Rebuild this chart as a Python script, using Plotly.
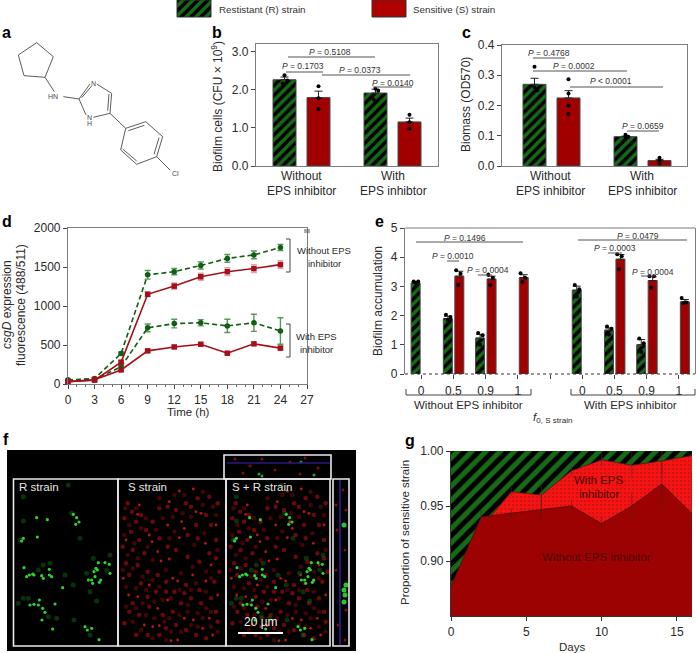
import plotly.graph_objects as go

W, H = 697, 653
FONT = "Liberation Sans"
INK = "#2a2a2a"
AXIS = "#7d7d7d"
GREEN_BG, GREEN_FG = "#176a17", "#000000"
RED_BAR = "#a00000"

# ---------- data ----------
b_groups = ["Without\nEPS inhibitor", "With\nEPS inhibtor"]
b_r = [2.27, 1.92]
b_s = [1.80, 1.16]
b_r_err = [0.07, 0.10]
b_s_err = [0.17, 0.10]
b_r_pts = [[2.39, 2.25, 2.17], [2.03, 1.98, 1.75]]
b_s_pts = [[2.10, 1.78, 1.50], [1.35, 1.15, 0.98]]

c_groups = ["Without\nEPS inhibitor", "With\nEPS inhibitor"]
c_r = [0.27, 0.097]
c_s = [0.225, 0.018]
c_r_err = [0.02, 0.002]
c_s_err = [0.024, 0.004]
c_r_pts = [[0.328, 0.26, 0.25], [0.103, 0.097, 0.097]]
c_s_pts = [[0.287, 0.24, 0.20, 0.172], [0.027, 0.02, 0.008]]

d_time = [0, 3, 6, 9, 12, 15, 18, 21, 24]
d_r_without = [50, 70, 390, 1400, 1440, 1520, 1610, 1655, 1750]
d_s_without = [30, 50, 280, 1150, 1255, 1375, 1440, 1480, 1530]
d_r_with = [50, 60, 220, 720, 775, 785, 745, 785, 680]
d_s_with = [30, 55, 180, 425, 475, 510, 395, 515, 460]
d_r_without_err = [10, 15, 20, 55, 40, 45, 50, 50, 40]
d_s_without_err = [10, 10, 20, 30, 40, 45, 50, 50, 50]
d_r_with_err = [10, 10, 20, 50, 55, 40, 85, 110, 170]
d_s_with_err = [10, 10, 15, 15, 15, 15, 15, 15, 25]

e_ticks = ["0", "0.5", "0.9", "1", "", "0", "0.5", "0.9", "1"]
e_r = [3.12, 1.90, 1.23, None, None, 2.87, 1.50, 1.00, None]
e_s = [None, 3.35, 3.25, 3.30, None, None, 3.93, 3.20, 2.47]
e_r_err = [0.05, 0.08, 0.13, 0, 0, 0.14, 0.08, 0.18, 0]
e_s_err = [0, 0.17, 0.1, 0.1, 0, 0, 0.16, 0.13, 0.08]
e_r_pts = [[3.17, 3.17, 3.12], [2.03, 1.95, 1.85], [1.4, 1.33, 1.0], [], [], [3.05, 2.9, 2.65], [1.63, 1.55, 1.35], [1.22, 1.05, 0.75], []]
e_s_pts = [[], [3.55, 3.43, 3.05], [3.4, 3.3, 3.05], [3.45, 3.3, 3.15], [], [], [4.1, 4.03, 3.6], [3.35, 3.35, 2.95], [2.6, 2.45, 2.42]]

g_days = [0, 2, 4, 6, 8, 10, 12, 14, 16]
g_resistant_top = [1, 1, 1, 1, 1, 1, 1, 1, 1]
g_with = [0.877, 0.930, 0.963, 0.960, 0.982, 0.992, 0.987, 0.991, 0.996]
g_without = [0.877, 0.940, 0.9435, 0.947, 0.950, 0.934, 0.950, 0.970, 0.943]
g_with_err = [0, 0.002, 0.004, 0.012, 0.004, 0.006, 0.012, 0.012, 0.004]
g_without_err = [0.012, 0.006, 0.004, 0.012, 0.005, 0.006, 0.012, 0.02, 0.038]

f_green_bright = [(80, 128), (112, 134), (82, 186), (197, 148), (207, 141), (68, 297), (58, 300), (50, 305), (72, 300), (95, 302), (100, 310), (118, 300), (125, 305), (118, 283), (42, 278), (258, 280), (265, 263), (285, 263), (298, 268), (300, 295), (255, 305), (235, 315), (248, 325), (272, 315), (158, 338), (135, 387), (128, 462), (225, 455), (232, 465), (245, 460), (267, 494), (60, 390), (72, 388), (88, 375), (85, 390), (98, 400), (105, 412), (96, 435), (40, 190), (35, 198), (190, 118), (200, 128), (252, 290), (262, 285), (245, 315), (268, 322)]
f_green_dim = [(40, 138), (30, 195), (185, 115), (210, 190), (100, 270), (85, 285), (120, 265), (165, 300), (190, 330), (250, 250), (300, 240), (230, 295), (290, 285), (240, 350), (260, 378), (40, 370), (25, 385), (55, 370), (115, 425), (140, 430), (192, 435), (240, 480), (175, 30), (40, 65)]
f_red_bright = [(70, 90), (190, 48), (232, 42), (160, 80), (197, 140), (205, 160), (155, 150), (65, 118), (30, 195), (108, 200), (100, 180), (240, 110), (255, 115), (300, 150), (268, 205), (190, 188), (135, 258), (160, 252), (125, 230), (285, 270), (185, 318), (170, 310), (230, 300), (270, 318), (100, 330), (65, 365), (125, 400), (155, 375), (130, 452), (85, 450), (205, 430), (232, 435), (290, 480), (185, 495), (165, 497), (305, 360), (38, 360), (22, 310), (280, 430), (260, 460), (110, 455)]
f_red_dim = [(35, 85), (48, 110), (75, 120), (25, 130), (60, 140), (90, 165), (45, 170), (70, 195), (20, 215), (50, 225), (85, 235), (110, 140), (130, 100), (155, 95), (180, 105), (210, 85), (225, 95), (245, 70), (280, 65), (305, 85), (270, 120), (285, 150), (240, 150), (215, 180), (245, 190), (300, 195), (280, 235), (300, 250), (250, 260), (215, 245), (180, 225), (155, 215), (130, 190), (30, 265), (65, 270), (95, 290), (40, 300), (75, 325), (125, 300), (150, 320), (210, 330), (250, 345), (295, 320), (310, 290), (285, 370), (255, 385), (225, 370), (195, 385), (170, 410), (140, 420), (100, 395), (70, 420), (40, 410), (25, 445), (60, 480), (95, 480), (130, 480), (150, 460), (180, 450), (210, 465), (240, 480), (270, 490), (305, 440), (300, 410), (120, 350), (95, 365), (50, 385), (175, 350), (205, 355), (150, 350)]
f_red_faint = [(28, 100), (60, 100), (90, 130), (40, 150), (75, 160), (25, 180), (55, 205), (95, 215), (35, 240), (65, 250), (110, 255), (20, 285), (50, 280), (80, 305), (110, 315), (60, 340), (30, 335), (90, 345), (130, 335), (115, 380), (80, 385), (30, 395), (60, 400), (90, 420), (115, 430), (50, 440), (75, 465), (110, 490), (145, 440), (160, 430), (190, 420), (215, 410), (245, 415), (270, 400), (285, 410), (260, 430), (225, 450), (195, 470), (150, 495), (165, 470), (245, 455), (285, 455), (305, 470), (270, 350), (225, 345), (190, 345), (165, 370), (140, 375), (215, 390), (240, 325), (270, 290), (230, 275), (195, 295), (150, 285), (285, 310), (305, 225), (265, 175), (225, 125), (200, 115), (170, 125), (140, 130), (120, 165), (175, 170), (160, 190), (235, 210), (290, 95), (260, 90), (300, 120), (175, 60), (205, 60), (260, 50), (130, 70)]
f_top_red = [(235, 459), (250, 466), (262, 459), (275, 470), (290, 462), (305, 458), (318, 468), (243, 473), (300, 474)]
f_top_green = [(259, 474), (262, 476), (314, 475), (301, 462)]
f_side_red = [(343, 490), (346, 510), (337, 530), (345, 550), (336, 570), (346, 610), (338, 625), (345, 640), (336, 505)]
f_side_green = [(344, 525), (344, 590), (345, 595), (344, 602), (346, 585)]

# ---------- helpers ----------
fig = go.Figure()
annotations, shapes = [], []


def T(x, y, text, size=12, color=INK, anchor="center", angle=0, bold=False):
    if bold:
        text = f"<b>{text}</b>"
    annotations.append(dict(x=x / W, y=1 - y / H, xref="paper", yref="paper", text=text, showarrow=False,
                            xanchor=anchor, yanchor="middle", textangle=angle,
                            font=dict(family=FONT, size=size, color=color)))


def seg(x0, y0, x1, y1, color=INK, width=1.0, dash="solid", layer="above"):
    shapes.append(dict(type="line", xref="paper", yref="paper", x0=x0 / W, x1=x1 / W, y0=1 - y0 / H, y1=1 - y1 / H,
                       line=dict(color=color, width=width, dash=dash), layer=layer))


def box(x0, y0, x1, y1, line="white", width=1.5, fill=None, layer="above"):
    shapes.append(dict(type="rect", xref="paper", yref="paper", x0=x0 / W, x1=x1 / W, y0=1 - y0 / H, y1=1 - y1 / H,
                       line=dict(color=line, width=width), fillcolor=fill, layer=layer))


def axis_common(**kw):
    base = dict(showgrid=False, zeroline=False, showline=True, linecolor=AXIS, linewidth=1.2, ticks="outside", automargin=False,
                ticklen=4, tickcolor="#444", tickwidth=1, tickfont=dict(family=FONT, size=12, color=INK))
    base.update(kw)
    return base


def domain(x0, y0, x1, y1):
    return [x0 / W, x1 / W], [1 - y1 / H, 1 - y0 / H]


def hatch():
    return dict(shape="/", bgcolor=GREEN_BG, fgcolor=GREEN_FG, fgopacity=1, fillmode="replace", size=7, solidity=0.5)


def bars(xs, vals, errs, resistant, width, xa, ya):
    fig.add_trace(go.Bar(x=xs, y=vals, width=width, xaxis=xa, yaxis=ya, showlegend=False,
                         marker=dict(color=GREEN_BG if resistant else RED_BAR, opacity=1,
                                     pattern=hatch() if resistant else dict(shape=""),
                                     line=dict(color="#4a4a4a", width=1)),
                         error_y=dict(type="data", symmetric=False, array=errs, arrayminus=[0] * len(errs),
                                      color="#222", thickness=1, width=4)))


def dots(xs, pts, jit, xa, ya):
    px, py = [], []
    for x, group in zip(xs, pts):
        for i, v in enumerate(group):
            px.append(x + jit[i % len(jit)])
            py.append(v)
    fig.add_trace(go.Scatter(x=px, y=py, mode="markers", xaxis=xa, yaxis=ya, showlegend=False, cliponaxis=False,
                             marker=dict(color="black", size=4)))


# ---------- panel b ----------
xb, yb = domain(256, 44, 438, 166)
side, bw = 17 / 91, 23 / 91
g_pos = list(range(len(b_groups)))
bars([g - side for g in g_pos], b_r, b_r_err, True, bw, "x", "y")
bars([g + side for g in g_pos], b_s, b_s_err, False, bw, "x", "y")
dots([g - side for g in g_pos], b_r_pts, [0.0, 0.03, -0.02], "x", "y")
dots([g + side for g in g_pos], b_s_pts, [0.0, 0.0, 0.0], "x", "y")

# ---------- panel c ----------
xc, yc = domain(502, 45, 687, 166)
bars([g - side for g in g_pos], c_r, c_r_err, True, bw, "x2", "y2")
bars([g + side for g in g_pos], c_s, c_s_err, False, bw, "x2", "y2")
dots([g - side for g in g_pos], c_r_pts, [0.0, 0.0, 0.03], "x2", "y2")
dots([g + side for g in g_pos], c_s_pts, [0.0, 0.0, 0.0, 0.0], "x2", "y2")

# ---------- panel d ----------
xd, yd = domain(68, 228, 307, 384)
D_GREEN, D_RED = "#0d5f12", "#a3101c"
for vals, errs, col, sym, dash, ecol in [
    (d_r_without, d_r_without_err, D_GREEN, "circle", "dash", "#5f935f"),
    (d_r_with, d_r_with_err, D_GREEN, "circle", "dash", "#5f935f"),
    (d_s_without, d_s_without_err, D_RED, "square", "solid", "#e5a3a3"),
    (d_s_with, d_s_with_err, D_RED, "square", "solid", "#e5a3a3"),
]:
    fig.add_trace(go.Scatter(x=d_time, y=vals, mode="lines+markers", xaxis="x3", yaxis="y3", showlegend=False,
                             cliponaxis=False, line=dict(color=col, width=1.6, dash="5px,3px" if dash == "dash" else "solid"),
                             marker=dict(color=col, size=5.5, symbol=sym),
                             error_y=dict(type="data", array=errs, color=ecol, thickness=1.4, width=3)))

# ---------- panel e ----------
xe, ye = domain(405, 228, 695, 374)
e_pos = list(range(len(e_ticks)))
e_off_r, e_off_s, e_w = -0.17, 0.186, 0.28
bars([p + e_off_r for p in e_pos], e_r, e_r_err, True, e_w, "x4", "y4")
bars([p + e_off_s for p in e_pos], e_s, e_s_err, False, e_w, "x4", "y4")
dots([p + e_off_r for p in e_pos], e_r_pts, [-0.06, 0.08, 0.0], "x4", "y4")
dots([p + e_off_s for p in e_pos], e_s_pts, [-0.1, 0.04, -0.04], "x4", "y4")

# ---------- panel g ----------
xg, yg = domain(451, 451, 692, 616)
fig.add_trace(go.Scatter(x=g_days, y=g_resistant_top, mode="lines", fill="tozeroy", xaxis="x5", yaxis="y5", showlegend=False,
                         line=dict(color="#0c3d0c", width=0.5), fillcolor=GREEN_BG,
                         fillpattern=dict(shape="/", bgcolor=GREEN_BG, fgcolor="#000000", fgopacity=1, fillmode="replace", size=10, solidity=0.5)))
fig.add_trace(go.Scatter(x=g_days, y=g_with, mode="lines", fill="tozeroy", xaxis="x5", yaxis="y5", showlegend=False,
                         line=dict(color="#5a1010", width=0.8), fillcolor="#f01212",
                         fillpattern=dict(shape=".", bgcolor="#f41414", fgcolor="#9a0c0c", size=4, solidity=0.2),
                         error_y=dict(type="data", array=g_with_err, color="rgba(90,40,40,0.6)", thickness=1, width=0)))
fig.add_trace(go.Scatter(x=g_days, y=g_without, mode="lines", fill="tozeroy", xaxis="x5", yaxis="y5", showlegend=False,
                         line=dict(color="#4a1010", width=0.8), fillcolor="#9c0202",
                         error_y=dict(type="data", array=g_without_err, color="rgba(80,30,30,0.55)", thickness=1, width=0)))

# ---------- overlay in pixel space: legend swatches, microscopy spots ----------
for (x0, x1, res) in [(177, 211, True), (372, 406, False)]:
    fig.add_trace(go.Scatter(x=[x0, x1, x1, x0, x0], y=[0, 0, 17, 17, 0], mode="lines", fill="toself", xaxis="x6", yaxis="y6",
                             showlegend=False, line=dict(color="#333", width=1), fillcolor=GREEN_BG if res else "#b00000",
                             fillpattern=hatch() if res else None))


def pane(points, ox, oy=475):
    return [ox + p[0] / 3 for p in points], [oy + p[1] / 3 for p in points]


def spots(xs, ys, color, size, opacity):
    fig.add_trace(go.Scatter(x=xs, y=ys, mode="markers", xaxis="x6", yaxis="y6", showlegend=False, hoverinfo="skip",
                             marker=dict(color=color, size=size, opacity=opacity, line=dict(width=0))))


box(7, 450, 356, 651, line="black", width=0, fill="black", layer="below")
for ox in (116, 224):
    xs, ys = pane(f_red_faint, ox)
    spots(xs, ys, "#7a0808", 4.5, 0.55)
    xs, ys = pane(f_red_dim, ox)
    spots(xs, ys, "#950d0d", 4.5, 0.7)
    xs, ys = pane(f_red_bright, ox)
    spots(xs, ys, "#cf1616", 2.8, 0.9)
for ox in (10, 223):
    xs, ys = pane(f_green_dim, ox)
    spots(xs, ys, "#1a7a1a", 5, 0.4)
    xs, ys = pane(f_green_bright, ox)
    spots(xs, ys, "#30dc30", 3.2, 0.95)
spots([p[0] for p in f_top_red], [p[1] for p in f_top_red], "#a01212", 3, 0.8)
spots([p[0] for p in f_top_green], [p[1] for p in f_top_green], "#2fb52f", 3, 0.9)
spots([p[0] for p in f_side_red], [p[1] for p in f_side_red], "#a01212", 3, 0.8)
spots([p[0] for p in f_side_green], [p[1] for p in f_side_green], "#2fdc2f", 5, 0.9)

seg(227, 463, 330, 463, color="#2a1a80", width=1.5)
seg(340, 480, 340, 645, color="#2a1a80", width=1.8)
box(13.5, 479, 118, 646, line="#e8e8ee", width=1.6)
box(118, 479, 226, 646, line="#e8e8ee", width=1.6)
box(226, 479, 330, 646, line="#e8e8ee", width=1.6)
box(333, 479, 349, 646, line="#e8e8ee", width=1.6)
box(224, 455, 331, 479, line="#e8e8ee", width=1.6)
seg(238, 633, 283, 633, color="white", width=2)
T(17, 487, "R strain", 11.5, "#e6e6e6", "left")
T(126, 487, "S strain", 11.5, "#e6e6e6", "left")
T(230, 487, "S + R strain", 11.5, "#e6e6e6", "left")
T(261, 622, "20 µm", 12, "#f0f0f0")

# ---------- legend text / panel letters ----------
T(217, 10, "Restistant (R) strain", 9.8, "#333", "left")
T(411, 10, "Sensitive (S) strain", 9.8, "#333", "left")
for letter, x, y in [("a", 0, 32), ("b", 210, 32), ("c", 460, 32), ("d", 0, 221), ("e", 373, 221), ("f", 1, 439), ("g", 403, 440)]:
    T(x, y, letter, 16, "black", "left", bold=True)

# ---------- molecule (panel a) ----------
MOL = "#4a4a4a"


def mol(points, width=0.9):
    for (x0, y0), (x1, y1) in zip(points[:-1], points[1:]):
        seg(x0 / 3, y0 / 3, x1 / 3, y1 / 3, color=MOL, width=width)


mol([(110, 128), (160, 170), (135, 232), (72, 227), (55, 165), (110, 128)])
mol([(135, 232), (163, 275)])
mol([(190, 290), (237, 297), (270, 252)])
mol([(245, 293), (275, 258)])
mol([(290, 252), (335, 280), (330, 340), (280, 352)])
mol([(327, 282), (323, 332)])
mol([(258, 345), (237, 297)])
mol([(330, 340), (377, 385), (437, 365), (488, 410), (470, 470), (410, 493), (362, 450), (377, 385)])
mol([(385, 392), (433, 376)])
mol([(477, 413), (462, 463)])
mol([(410, 483), (368, 447)])
mol([(470, 470), (510, 510)])
T(53.5, 97, "HN", 7, MOL)
T(93, 83.5, "N", 7, MOL)
T(89, 117, "N", 7, MOL)
T(89, 123.5, "H", 7, MOL)
T(175, 173.5, "Cl", 7, MOL)

# ---------- P-value labels ----------
P_ITEMS = [
    (330, 52, "= 0.5108", 288, 375, 57), (303, 66, "= 0.1703", 286, 323, 72), (360, 70, "= 0.0373", 322, 410, 75), (393, 83, "= 0.0140", 373, 412, 87),
    (549, 53, "= 0.4768", 533, 565, 58), (574, 66, "= 0.0002", 533, 627, 71), (611, 81, "&lt; 0.0001", 570, 663, 87), (643, 126, "= 0.0659", 627, 659, 131),
    (465, 238, "= 0.1496", 416, 523, 242), (453, 256, "= 0.0010", 447, 459, 261), (488, 270, "= 0.0004", 478, 492, 275),
    (638, 236, "= 0.0479", 578, 687, 240), (615, 248, "= 0.0003", 608, 622, 253), (653, 272, "= 0.0004", 641, 655, 276),
]
for cx, ty, txt, lx0, lx1, ly in P_ITEMS:
    T(cx, ty, f"<i>P</i> {txt}", 8.5, "#333")
    seg(lx0, ly, lx1, ly, color="#555", width=1)

# ---------- category labels / axis titles ----------
for cx, label in zip([301, 393], b_groups):
    a, b = label.split("\n")
    T(cx, 176, a, 12)
    T(cx, 191, b, 12)
for cx, label in zip([550, 642], c_groups):
    a, b = label.split("\n")
    T(cx, 176, a, 12)
    T(cx, 191, b, 12)
T(217, 107, "Biofilm cells (CFU × 10<sup>9</sup>)", 12, INK, angle=-90)
T(466, 105, "Biomass (OD570)", 12, INK, angle=-90)
T(7, 305, "<i>csgD</i> expression", 12, INK, angle=-90)
T(21, 305, "fluorescence (488/511)", 12, INK, angle=-90)
T(188, 412, "Time (h)", 11.5)
T(378, 301, "Biofilm accumulation", 12, INK, angle=-90)
T(405, 533, "Proportion of sensitive strain", 11.5, INK, angle=-90)
T(572, 647, "Days", 11.5)

# panel d extras
T(324, 250, "Without EPS", 9.5)
T(324, 263, "inhibitor", 9.5)
T(316, 336, "With EPS", 9.5)
T(316, 349, "inhibitor", 9.5)
for y0, y1 in [(239, 272), (324, 357)]:
    seg(290, y0, 290, y1, color="#444", width=1)
    seg(286, y0, 290, y0, color="#444", width=1)
    seg(286, y1, 290, y1, color="#444", width=1)
seg(304, 230, 310, 230, color="#555", width=1)
seg(304, 232, 310, 232, color="#555", width=1)

# panel e extras
seg(405, 228, 695, 228, color=AXIS, width=1.2)
seg(405, 374, 695, 374, color="#333", width=1.2, dash="dot")
for x0, x1 in [(406, 531), (571, 695)]:
    seg(x0, 389, x0, 395, color="#444", width=1)
    seg(x1, 389, x1, 395, color="#444", width=1)
    seg(x0, 395, x1, 395, color="#444", width=1)
T(468, 405, "Without EPS inhibitor", 11.5)
T(630, 405, "With EPS inhibitor", 11.5)
T(552, 418, "<i>f</i><sub>0, S strain</sub>", 11.5)

# panel g labels
G_TXT = "#4d0505"
T(599, 480, "With EPS", 11.5, G_TXT)
T(599, 494, "inhibitor", 11.5, G_TXT)
T(596, 557, "Without EPS inhibitor", 11.5, G_TXT)

# ---------- layout ----------
fig.update_layout(
    width=W, height=H, autosize=False, margin=dict(l=0, r=0, t=0, b=0, autoexpand=False), paper_bgcolor="white", plot_bgcolor="rgba(0,0,0,0)",
    showlegend=False, barmode="overlay", annotations=annotations, shapes=shapes,
    xaxis=axis_common(domain=xb, range=[-0.5, 1.5], ticks="", showticklabels=False, mirror=True, fixedrange=True),
    yaxis=axis_common(domain=yb, range=[0, 3.21], tickvals=[0, 1, 2, 3], ticktext=["0.0", "1.0", "2.0", "3.0"], mirror=True, anchor="x"),
    xaxis2=axis_common(domain=xc, range=[-0.544, 1.489], ticks="", showticklabels=False, mirror=True, anchor="y2"),
    yaxis2=axis_common(domain=yc, range=[0, 0.4], tickvals=[0, 0.1, 0.2, 0.3, 0.4], ticktext=["0.0", "0.1", "0.2", "0.3", "0.4"], mirror=True, anchor="x2"),
    xaxis3=axis_common(domain=xd, range=[0, 27], tickvals=list(range(0, 28, 3)), mirror=True, anchor="y3",
                       minor=dict(dtick=1, ticks="outside", ticklen=2, tickcolor="#666")),
    yaxis3=axis_common(domain=yd, range=[0, 2000], tickvals=[0, 500, 1000, 1500, 2000], mirror=True, anchor="x3"),
    xaxis4=axis_common(domain=xe, range=[-0.5, 8.5], tickvals=e_pos, ticktext=e_ticks, showline=False, anchor="y4", ticklabelstandoff=2),
    yaxis4=axis_common(domain=ye, range=[0, 5], tickvals=[0, 1, 2, 3, 4, 5], mirror=True, anchor="x4"),
    xaxis5=axis_common(domain=xg, range=[0, 16], tickvals=[0, 5, 10, 15], anchor="y5", linecolor="#333", tickcolor="#333"),
    yaxis5=axis_common(domain=yg, range=[0.85, 1.0], tickvals=[0.90, 0.95, 1.00], ticktext=["0.90", "0.95", "1.00"], anchor="x5", linecolor="#333", tickcolor="#333"),
    xaxis6=dict(domain=[0, 1], range=[0, W], visible=False, anchor="y6", automargin=False),
    yaxis6=dict(domain=[0, 1], range=[H, 0], visible=False, anchor="x6", automargin=False),
)

fig.write_html("out.html", config=dict(displayModeBar=False),
               post_script="document.body.style.margin='0';document.body.style.overflow='hidden';")
